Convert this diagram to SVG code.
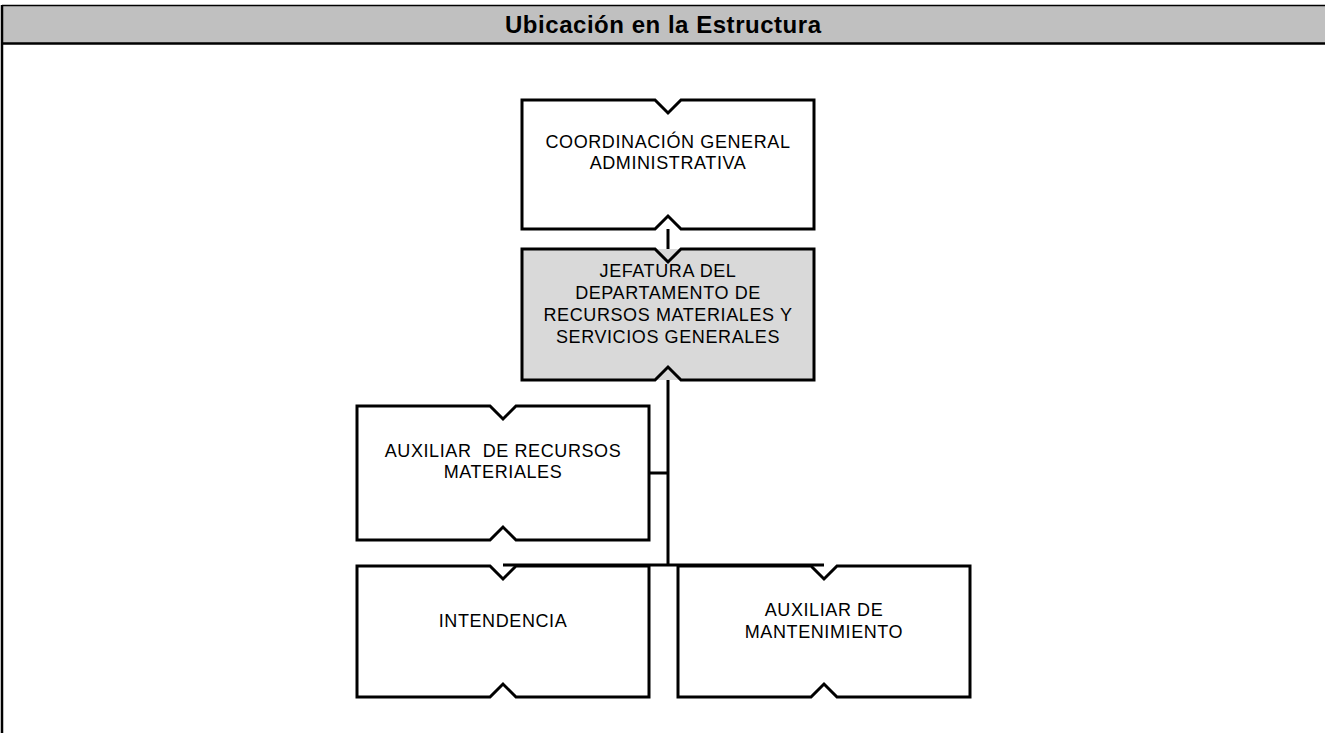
<svg xmlns="http://www.w3.org/2000/svg" width="1325" height="733" viewBox="0 0 1325 733">
<style>
.box{fill:none;stroke:#000;stroke-width:3;stroke-linejoin:miter}
.t{font-family:"Liberation Sans",Arial,sans-serif;font-size:18px;letter-spacing:0.6px;fill:#000;text-anchor:middle}
.con{stroke:#000;stroke-width:3;fill:none}
</style>
<rect x="0" y="0" width="1325" height="733" fill="#fff"/>
<g id="header">
<rect x="2" y="5" width="1323" height="38" fill="#c0c0c0"/>
<line x1="2" y1="5.5" x2="1325" y2="5.5" stroke="#000" stroke-width="1.5"/>
<line x1="2" y1="43.5" x2="1325" y2="43.5" stroke="#000" stroke-width="2.5"/>
<line x1="2" y1="5" x2="2" y2="733" stroke="#000" stroke-width="2.5"/>
<text x="663" y="33" font-family="'Liberation Sans',Arial,sans-serif" font-size="24" font-weight="bold" text-anchor="middle" textLength="316">Ubicación en la Estructura</text>
</g>
<g id="connectors">
<line class="con" x1="668" y1="229" x2="668" y2="249"/>
<line class="con" x1="668" y1="380" x2="668" y2="566"/>
<line class="con" x1="649" y1="473" x2="668" y2="473"/>
<line class="con" x1="503" y1="565" x2="824" y2="565"/>
</g>
<g id="n1">
<rect x="522" y="100" width="292" height="129" fill="#fff"/>
<path class="box" d="M522,100 H655 L668,113 L681,100 H814 V229 H681 L668,216 L655,229 H522 Z"/>
<text class="t" x="668" y="148">COORDINACIÓN GENERAL</text>
<text class="t" x="668" y="169">ADMINISTRATIVA</text>
</g>
<g id="n2">
<rect x="522" y="249" width="292" height="131" fill="#d9d9d9"/>
<path class="box" d="M522,249 H655 L668,262 L681,249 H814 V380 H681 L668,367 L655,380 H522 Z"/>
<text class="t" x="668" y="277">JEFATURA DEL</text>
<text class="t" x="668" y="299">DEPARTAMENTO DE</text>
<text class="t" x="668" y="321">RECURSOS MATERIALES Y</text>
<text class="t" x="668" y="343">SERVICIOS GENERALES</text>
</g>
<g id="n3">
<rect x="357" y="406" width="292" height="134" fill="#fff"/>
<path class="box" d="M357,406 H490 L503,419 L516,406 H649 V540 H516 L503,527 L490,540 H357 Z"/>
<text class="t" x="503" y="457" xml:space="preserve">AUXILIAR  DE RECURSOS</text>
<text class="t" x="503" y="478">MATERIALES</text>
</g>
<g id="n4">
<path class="box" d="M357,566 H490 L503,579 L516,566 H649 V697 H516 L503,684 L490,697 H357 Z"/>
<text class="t" x="503" y="627">INTENDENCIA</text>
</g>
<g id="n5">
<path class="box" d="M678,566 H811 L824,579 L837,566 H970 V697 H837 L824,684 L811,697 H678 Z"/>
<text class="t" x="824" y="616">AUXILIAR DE</text>
<text class="t" x="824" y="638">MANTENIMIENTO</text>
</g>
</svg>
